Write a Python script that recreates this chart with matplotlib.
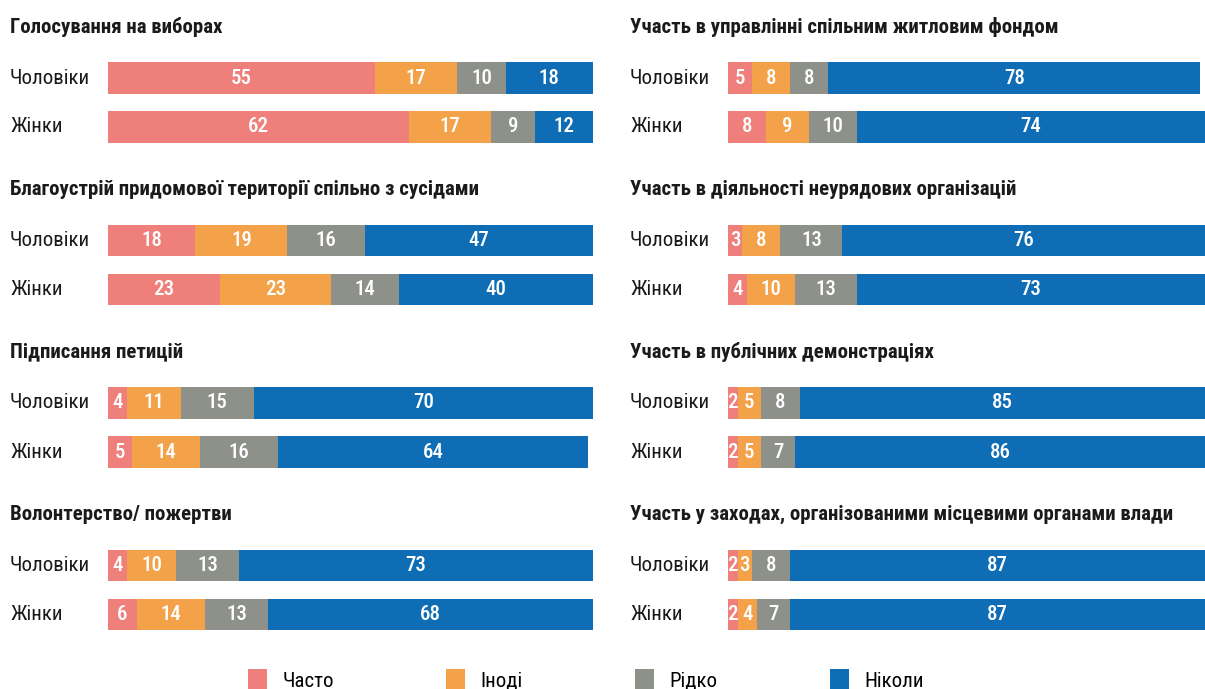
import matplotlib
matplotlib.use('Agg')
import matplotlib.pyplot as plt
from matplotlib.patches import Patch
import warnings

warnings.filterwarnings('ignore')
plt.rcParams['font.family'] = ['Roboto Condensed', 'Fira Sans Condensed', 'DejaVu Sans']

# ── Data ──────────────────────────────────────────────────────────────────────
levels = ['Часто', 'Іноді', 'Рідко', 'Ніколи']
groups = ['Чоловіки', 'Жінки']

titles_left = ['Голосування на виборах',
               'Благоустрій придомової території спільно з сусідами',
               'Підписання петицій',
               'Волонтерство/ пожертви']
men_left   = [[55, 17, 10, 18], [18, 19, 16, 47], [4, 11, 15, 70], [4, 10, 13, 73]]
women_left = [[62, 17, 9, 12], [23, 23, 14, 40], [5, 14, 16, 64], [6, 14, 13, 68]]

titles_right = ['Участь в управлінні спільним житловим фондом',
                'Участь в діяльності неурядових організацій',
                'Участь в публічних демонстраціях',
                'Участь у заходах, організованими місцевими органами влади']
men_right   = [[5, 8, 8, 78], [3, 8, 13, 76], [2, 5, 8, 85], [2, 3, 8, 87]]
women_right = [[8, 9, 10, 74], [4, 10, 13, 73], [2, 5, 7, 86], [2, 4, 7, 87]]

# ── Colors ────────────────────────────────────────────────────────────────────
COLORS = ['#EF7F7B', '#F4A24A', '#8E908A', '#0E6DB5']
DARK = '#1A1A1A'

W, H = 1205, 689
fig = plt.figure(figsize=(W / 100, H / 100), dpi=100)
fig.patch.set_facecolor('white')


def box(x0, y0, x1, y1):
    return [x0 / W, 1 - y1 / H, (x1 - x0) / W, (y1 - y0) / H]


def panel(x_title, x0, x1, k, title, men, women):
    c1 = 78 + k * 162.5
    ax = fig.add_axes(box(x0, c1 - 24.5, x1, c1 + 49 + 24.5))
    rows = [men, women]
    left = [0, 0]
    for j in range(len(levels)):
        vals = [r[j] for r in rows]
        bars = ax.barh([0, 1], vals, left=left, height=0.65,
                       color=COLORS[j], edgecolor='none')
        ax.bar_label(bars, labels=[str(v) for v in vals], label_type='center',
                     color='white', fontsize=15, fontweight='medium')
        left = [l + v for l, v in zip(left, vals)]
    ax.set_xlim(0, 100)
    ax.set_ylim(1.5, -0.5)
    ax.axis('off')
    fig.text(x_title / W, 1 - 27 / H - k * 162.5 / H, title, ha='left',
             va='center', fontsize=15, fontweight='bold', color=DARK)
    for i, g in enumerate(groups):
        fig.text(x_title / W, 1 - (c1 + 49 * i) / H, g, ha='left',
                 va='center', fontsize=15, color=DARK)


for k in range(4):
    panel(10, 108, 593, k, titles_left[k], men_left[k], women_left[k])
    panel(630, 728, 1205, k, titles_right[k], men_right[k], women_right[k])

handles = [Patch(facecolor=c, edgecolor='none', label=l) for c, l in zip(COLORS, levels)]
fig.legend(handles=handles, loc='center left', bbox_to_anchor=(229 / W, 1 - 680 / H),
           ncol=4, frameon=False, fontsize=15, handlelength=0.9, handleheight=1.2,
           handletextpad=0.75, columnspacing=5.4)

plt.savefig('out.png', dpi=100, facecolor=fig.get_facecolor())
